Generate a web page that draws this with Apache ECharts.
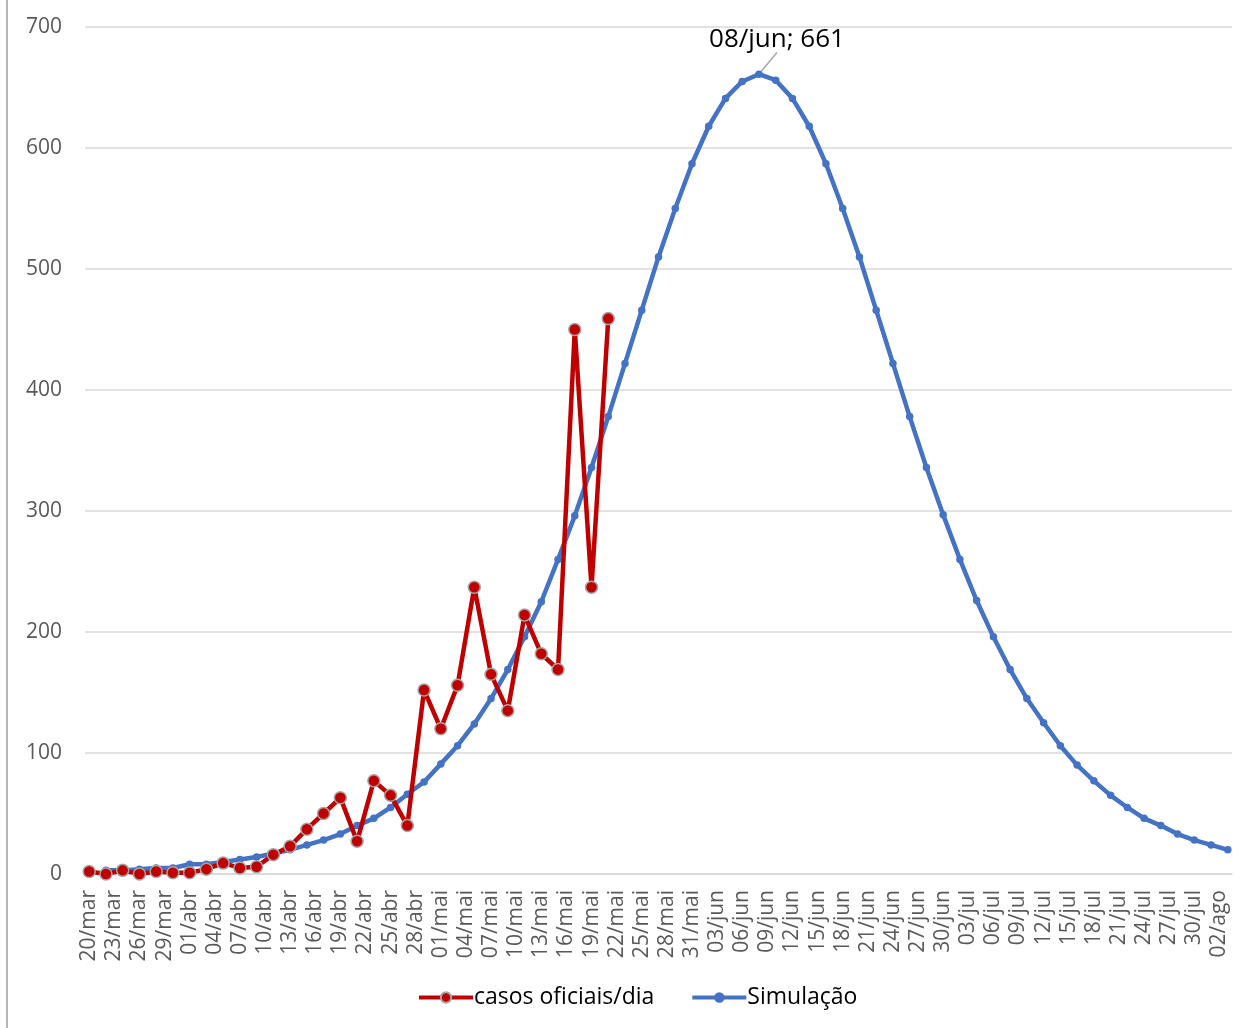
<!DOCTYPE html>
<html>
<head>
<meta charset="utf-8">
<script src="https://cdn.jsdelivr.net/npm/echarts@6/dist/echarts.min.js"></script>
<style>
  html, body { margin: 0; padding: 0; background: #fff; }
  #wrap { position: relative; width: 1239px; height: 1028px; }
  #frame { position: absolute; left: 6px; top: 0; width: 0; height: 1028px; border-left: 2px solid #b4b4b4; }
  #chart { position: absolute; left: 0; top: 0; width: 1239px; height: 1028px; }
</style>
</head>
<body>
<div id="wrap"><div id="frame"></div><div id="chart"></div></div>
<script>
// Daily categories 20/mar .. 03/ago
const categories = [
  '20/mar','21/mar','22/mar','23/mar','24/mar','25/mar','26/mar','27/mar','28/mar','29/mar','30/mar','31/mar',
  '01/abr','02/abr','03/abr','04/abr','05/abr','06/abr','07/abr','08/abr','09/abr','10/abr',
  '11/abr','12/abr','13/abr','14/abr','15/abr','16/abr','17/abr','18/abr','19/abr','20/abr',
  '21/abr','22/abr','23/abr','24/abr','25/abr','26/abr','27/abr','28/abr','29/abr','30/abr',
  '01/mai','02/mai','03/mai','04/mai','05/mai','06/mai','07/mai','08/mai','09/mai','10/mai',
  '11/mai','12/mai','13/mai','14/mai','15/mai','16/mai','17/mai','18/mai','19/mai','20/mai',
  '21/mai','22/mai','23/mai','24/mai','25/mai','26/mai','27/mai','28/mai','29/mai','30/mai','31/mai',
  '01/jun','02/jun','03/jun','04/jun','05/jun','06/jun','07/jun','08/jun','09/jun','10/jun',
  '11/jun','12/jun','13/jun','14/jun','15/jun','16/jun','17/jun','18/jun','19/jun','20/jun',
  '21/jun','22/jun','23/jun','24/jun','25/jun','26/jun','27/jun','28/jun','29/jun','30/jun',
  '01/jul','02/jul','03/jul','04/jul','05/jul','06/jul','07/jul','08/jul','09/jul','10/jul',
  '11/jul','12/jul','13/jul','14/jul','15/jul','16/jul','17/jul','18/jul','19/jul','20/jul',
  '21/jul','22/jul','23/jul','24/jul','25/jul','26/jul','27/jul','28/jul','29/jul','30/jul','31/jul',
  '01/ago','02/ago','03/ago'
];

// Official cases (every 2 days)
const casosDates = [
  '20/mar','22/mar','24/mar','26/mar','28/mar','30/mar','01/abr','03/abr','05/abr','07/abr',
  '09/abr','11/abr','13/abr','15/abr','17/abr','19/abr','21/abr','23/abr','25/abr','27/abr',
  '29/abr','01/mai','03/mai','05/mai','07/mai','09/mai','11/mai','13/mai','15/mai','17/mai',
  '19/mai','21/mai'
];
const casosValues = [
  2, 0, 3, 0, 2, 1, 1, 4, 9, 5,
  6, 16, 23, 37, 50, 63, 27, 77, 65, 40,
  152, 120, 156, 237, 165, 135, 214, 182, 169, 450,
  237, 459
];

// Simulation (every 2 days)
const simDates = [
  '22/mar','24/mar','26/mar','28/mar','30/mar','01/abr','03/abr','05/abr','07/abr','09/abr',
  '11/abr','13/abr','15/abr','17/abr','19/abr','21/abr','23/abr','25/abr','27/abr','29/abr',
  '01/mai','03/mai','05/mai','07/mai','09/mai','11/mai','13/mai','15/mai','17/mai','19/mai',
  '21/mai','23/mai','25/mai','27/mai','29/mai','31/mai','02/jun','04/jun','06/jun','08/jun',
  '10/jun','12/jun','14/jun','16/jun','18/jun','20/jun','22/jun','24/jun','26/jun','28/jun',
  '30/jun','02/jul','04/jul','06/jul','08/jul','10/jul','12/jul','14/jul','16/jul','18/jul',
  '20/jul','22/jul','24/jul','26/jul','28/jul','30/jul','01/ago','03/ago'
];
const simValues = [
  3, 3, 4, 5, 5, 8, 8, 10, 12, 14,
  17, 20, 24, 28, 33, 40, 46, 55, 66, 76,
  91, 106, 124, 145, 169, 196, 225, 260, 296, 336,
  378, 422, 466, 510, 550, 587, 618, 641, 655, 661,
  656, 641, 618, 587, 550, 510, 466, 422, 378, 336,
  297, 260, 226, 196, 169, 145, 125, 106, 90, 77,
  65, 55, 46, 40, 33, 28, 24, 20
];

const yTicks = { min: 0, max: 700, interval: 100 };
const peakLabel = '08/jun; 661';
const peakDate = '08/jun';

const FONT = '"Open Sans", "Noto Sans", sans-serif';

const casosData = casosDates.map((d, i) => [d, casosValues[i]]);
const simData = simDates.map((d, i) => {
  if (d === peakDate) {
    return {
      value: [d, simValues[i]],
      label: {
        show: true,
        formatter: peakLabel,
        position: 'top',
        distance: 4,
        fontSize: 26,
        color: '#000',
        fontFamily: FONT
      },
      labelLine: { show: true, lineStyle: { color: '#a6a6a6', width: 1.5 } }
    };
  }
  return [d, simValues[i]];
});

const chart = echarts.init(document.getElementById('chart'), null, { renderer: 'canvas' });
chart.setOption({
  animation: false,
  backgroundColor: 'transparent',
  textStyle: { fontFamily: FONT },
  grid: { left: 85, top: 27, width: 1147, height: 847, containLabel: false },
  legend: {
    left: 412,
    top: 981,
    itemWidth: 54,
    itemHeight: 13,
    itemGap: 36,
    lineStyle: { width: 4 },
    textStyle: { fontSize: 23, color: '#000', fontFamily: FONT, padding: [0, 0, 0, -4] },
    data: ['casos oficiais/dia', 'Simulação']
  },
  xAxis: {
    type: 'category',
    data: categories,
    boundaryGap: true,
    axisLine: { show: true, lineStyle: { color: '#d9d9d9', width: 1.5 } },
    axisTick: { show: false },
    axisLabel: {
      interval: 2,
      rotate: 90,
      margin: 16,
      fontSize: 21,
      color: '#595959',
      fontFamily: FONT
    },
    splitLine: { show: false }
  },
  yAxis: {
    type: 'value',
    min: yTicks.min,
    max: yTicks.max,
    interval: yTicks.interval,
    axisLine: { show: false },
    axisTick: { show: false },
    axisLabel: { fontSize: 21, color: '#595959', margin: 23, fontFamily: FONT },
    splitLine: { lineStyle: { color: '#d9d9d9', width: 1.5 } }
  },
  series: [
    {
      name: 'casos oficiais/dia',
      type: 'line',
      data: casosData,
      symbol: 'circle',
      symbolSize: 12,
      showSymbol: true,
      showAllSymbol: true,
      z: 3,
      lineStyle: { color: '#c00000', width: 4.5 },
      itemStyle: { color: '#c00000', borderColor: '#a5a5a5', borderWidth: 1.5 },
      emphasis: { disabled: true }
    },
    {
      name: 'Simulação',
      type: 'line',
      data: simData,
      symbol: 'circle',
      symbolSize: 7.5,
      showSymbol: true,
      showAllSymbol: true,
      z: 2,
      lineStyle: { color: '#4472c4', width: 4.5 },
      itemStyle: { color: '#4472c4' },
      labelLayout: { dx: 18, dy: -14 },
      emphasis: { disabled: true }
    }
  ]
});
</script>
</body>
</html>
